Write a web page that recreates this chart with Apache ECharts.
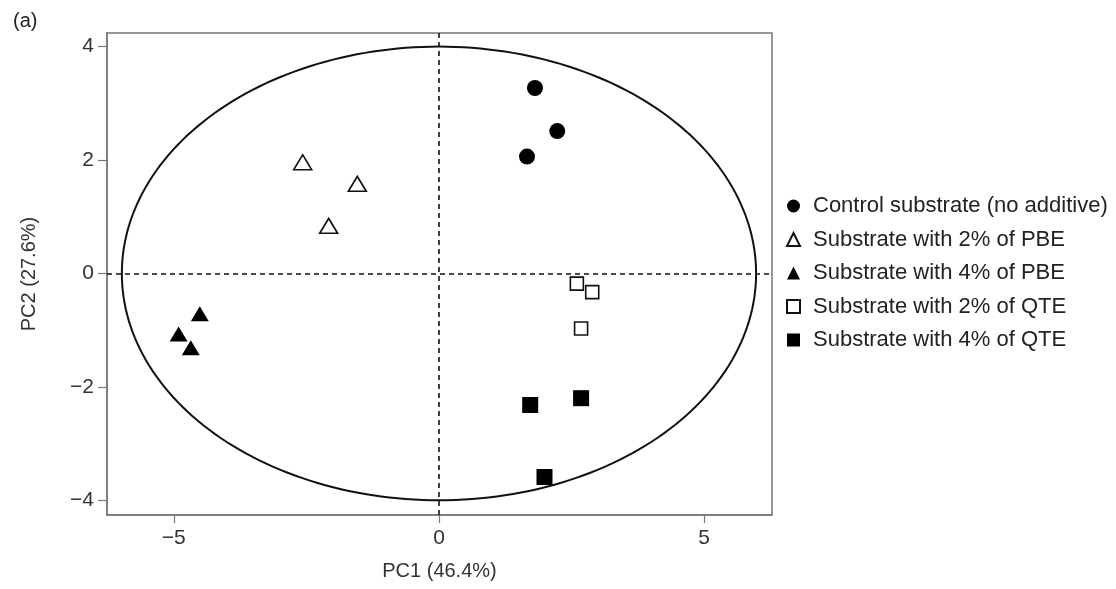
<!DOCTYPE html>
<html>
<head>
<meta charset="utf-8">
<script src="https://cdn.jsdelivr.net/npm/echarts@6/dist/echarts.min.js"></script>
<style>
html,body{margin:0;padding:0;background:#fff;}
#chart{width:1116px;height:589px;}
</style>
</head>
<body>
<div id="chart"></div>
<script>
// ---- data ----
const seriesNames = [
  'Control substrate (no additive)',
  'Substrate with 2% of PBE',
  'Substrate with 4% of PBE',
  'Substrate with 2% of QTE',
  'Substrate with 4% of QTE'
];
const controlPts = [[1.81, 3.27], [2.23, 2.51], [1.66, 2.06]];
const pbe2Pts = [[-2.57, 1.96], [-1.54, 1.58], [-2.08, 0.84]];
const pbe4Pts = [[-4.51, -0.71], [-4.91, -1.07], [-4.68, -1.31]];
const qte2Pts = [[2.60, -0.18], [2.89, -0.33], [2.68, -0.97]];
const qte4Pts = [[1.72, -2.32], [2.68, -2.20], [1.99, -3.59]];
const xTicks = [-5, 0, 5];
const yTicks = [-4, -2, 0, 2, 4];
const ellipseCenter = [0, 0];
const ellipseRadii = [5.98, 4.0];
const xTitle = 'PC1 (46.4%)';
const yTitle = 'PC2 (27.6%)';
const panelLabel = '(a)';

const FONT = '"Liberation Sans", Arial, sans-serif';
const fmt = v => String(v).replace('-', '\u2212');

const chart = echarts.init(document.getElementById('chart'), null, {renderer: 'canvas'});

const ellipseSeries = {
  type: 'custom',
  silent: true,
  z: 1,
  data: [ellipseCenter],
  renderItem: function (params, api) {
    const pts = [];
    const N = 240;
    for (let i = 0; i <= N; i++) {
      const t = 2 * Math.PI * i / N;
      pts.push(api.coord([
        ellipseCenter[0] + ellipseRadii[0] * Math.cos(t),
        ellipseCenter[1] + ellipseRadii[1] * Math.sin(t)
      ]));
    }
    return {
      type: 'polygon',
      shape: {points: pts},
      style: {fill: 'none', stroke: '#111', lineWidth: 2}
    };
  }
};

const refLines = {
  type: 'line',
  data: [],
  silent: true,
  z: 0,
  markLine: {
    silent: true,
    symbol: 'none',
    label: {show: false},
    lineStyle: {color: '#111', type: [5, 4], width: 1.6},
    data: [{xAxis: 0}, {yAxis: 0}]
  }
};

function scatter(name, data, symbol, size, filled, bw) {
  return {
    name: name,
    type: 'scatter',
    data: data,
    symbol: symbol,
    symbolSize: size,
    z: 5,
    itemStyle: filled
      ? {color: '#000', borderWidth: 0, opacity: 1}
      : {color: '#fff', borderColor: '#111', borderWidth: bw, opacity: 1}
  };
}

chart.setOption({
  animation: false,
  backgroundColor: '#fff',
  title: {
    text: panelLabel,
    left: 8, top: 6,
    textStyle: {fontFamily: FONT, fontSize: 20, fontWeight: 'normal', color: '#222'}
  },
  grid: {
    left: 107, right: 344, top: 33, bottom: 74,
    show: true, borderColor: '#777', borderWidth: 1.5, backgroundColor: 'transparent'
  },
  legend: {
    orient: 'vertical',
    left: 781, top: 190,
    itemWidth: 13, itemHeight: 13, itemGap: 11.5,
    selectedMode: false,
    textStyle: {fontFamily: FONT, fontSize: 22, color: '#222', padding: [0, 0, 0, 8]},
    data: seriesNames
  },
  xAxis: {
    type: 'value',
    min: -6.26, max: 6.28,
    name: xTitle,
    nameLocation: 'middle',
    nameGap: 46,
    nameTextStyle: {fontFamily: FONT, fontSize: 20, color: '#333'},
    axisLine: {show: true, onZero: false, lineStyle: {color: '#777', width: 1.5}},
    axisTick: {show: true, length: 8, customValues: xTicks, lineStyle: {color: '#777', width: 1.2}},
    axisLabel: {customValues: xTicks, margin: 13, formatter: fmt, fontFamily: FONT, fontSize: 21, color: '#333'},
    splitLine: {show: false}
  },
  yAxis: {
    type: 'value',
    min: -4.26, max: 4.24,
    name: yTitle,
    nameLocation: 'middle',
    nameGap: 68,
    nameTextStyle: {fontFamily: FONT, fontSize: 20, color: '#333'},
    axisLine: {show: true, onZero: false, lineStyle: {color: '#777', width: 1.5}},
    axisTick: {show: true, length: 9, customValues: yTicks, lineStyle: {color: '#777', width: 1.2}},
    axisLabel: {customValues: yTicks, margin: 13, formatter: fmt, fontFamily: FONT, fontSize: 21, color: '#333'},
    splitLine: {show: false}
  },
  series: [
    refLines,
    ellipseSeries,
    scatter(seriesNames[0], controlPts, 'circle', 16, true, 0),
    scatter(seriesNames[1], pbe2Pts, 'triangle', [18, 15], false, 1.6),
    scatter(seriesNames[2], pbe4Pts, 'triangle', [18, 15], true, 0),
    scatter(seriesNames[3], qte2Pts, 'rect', 13, false, 1.6),
    scatter(seriesNames[4], qte4Pts, 'rect', 16, true, 0)
  ]
});
</script>
</body>
</html>
